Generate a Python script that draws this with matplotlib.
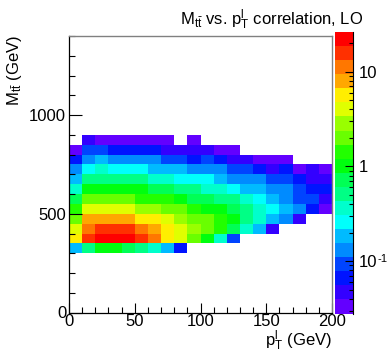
import colorsys
import numpy as np
import matplotlib
matplotlib.use('Agg')
import matplotlib.pyplot as plt
from matplotlib.colors import ListedColormap, BoundaryNorm
from matplotlib.ticker import FixedLocator, FixedFormatter, MultipleLocator, NullFormatter

#------------------------------------------------------------------------------
### Data: bin edges and bin contents (rows = M_tt bins from 300 to 900 GeV)
pt_edges = np.arange(0, 201, 10)
mtt_edges = np.arange(300, 901, 50)

row_300 = [0.18, 0.51, 1.0, 1.0, 0.72, 0.51, 0.37, 0.18, 0.066, 0, 0, 0, 0, 0, 0, 0, 0, 0, 0, 0]
row_350 = [5.6, 16, 22, 22, 22, 16, 11, 5.6, 4.0, 2.0, 1.0, 0.37, 0.093, 0, 0, 0, 0, 0, 0, 0]
row_400 = [4.0, 11, 16, 16, 16, 11, 7.9, 5.6, 4.0, 2.8, 2.0, 1.4, 0.72, 0.37, 0.18, 0.047, 0, 0, 0, 0]
row_450 = [2.0, 7.9, 7.9, 7.9, 7.9, 5.6, 5.6, 4.0, 2.8, 2.0, 2.0, 1.4, 1.0, 0.51, 0.37, 0.18, 0.13, 0.047, 0, 0]
row_500 = [1.4, 4.0, 4.0, 4.0, 4.0, 2.8, 2.8, 2.0, 2.0, 1.4, 1.0, 1.0, 0.72, 0.51, 0.37, 0.26, 0.18, 0.13, 0.066, 0.033]
row_550 = [0.72, 2.0, 2.0, 2.0, 2.0, 1.4, 1.4, 1.4, 1.0, 0.72, 0.72, 0.51, 0.51, 0.37, 0.26, 0.18, 0.13, 0.093, 0.093, 0.047]
row_600 = [0.37, 1.0, 1.0, 1.0, 1.0, 1.0, 0.72, 0.72, 0.51, 0.51, 0.37, 0.37, 0.26, 0.18, 0.18, 0.13, 0.13, 0.093, 0.066, 0.066]
row_650 = [0.18, 0.51, 0.51, 0.51, 0.51, 0.51, 0.37, 0.37, 0.26, 0.26, 0.26, 0.18, 0.13, 0.13, 0.13, 0.093, 0.093, 0.066, 0.047, 0.047]
row_700 = [0.13, 0.26, 0.37, 0.26, 0.26, 0.26, 0.18, 0.18, 0.18, 0.13, 0.13, 0.13, 0.093, 0.093, 0.066, 0.047, 0.066, 0.033, 0.047, 0.033]
row_750 = [0.066, 0.13, 0.18, 0.13, 0.13, 0.13, 0.13, 0.093, 0.093, 0.066, 0.093, 0.066, 0.047, 0.047, 0.033, 0.033, 0.033, 0, 0, 0]
row_800 = [0.033, 0.093, 0.093, 0.066, 0.066, 0.066, 0.066, 0.047, 0.047, 0.047, 0.047, 0.033, 0.033, 0, 0, 0, 0, 0, 0, 0]
row_850 = [0, 0.047, 0.033, 0.033, 0.033, 0.033, 0.033, 0.033, 0, 0.033, 0, 0, 0, 0, 0, 0, 0, 0, 0, 0]

# z-axis range of the palette
Z_MIN = 10 ** -1.553
Z_MAX = 10 ** 1.42
N_CONTOURS = 20

#------------------------------------------------------------------------------
### Style constants
FONT = 'Liberation Sans'
FONT_SIZE = 12
W, H = 389, 362

plt.rcParams['font.family'] = FONT
plt.rcParams['mathtext.fontset'] = 'custom'
plt.rcParams['mathtext.rm'] = FONT
plt.rcParams['mathtext.it'] = FONT
plt.rcParams['font.size'] = FONT_SIZE

# pretty palette (violet -> red), 20 contour colours picked like ROOT does
palette = []
for k in range(N_CONTOURS):
    idx = int((k + 0.99) * 50 / N_CONTOURS)
    hue = 280 - (idx + 1) * 280 / 50
    palette.append(colorsys.hls_to_rgb(hue / 360.0, 0.5, 1.0))
cmap = ListedColormap(palette)
levels = np.logspace(np.log10(Z_MIN), np.log10(Z_MAX), N_CONTOURS + 1)
norm = BoundaryNorm(levels, cmap.N)

counts = np.array([row_300, row_350, row_400, row_450, row_500, row_550,
                   row_600, row_650, row_700, row_750, row_800, row_850])
counts = np.ma.masked_where(counts <= 0, counts)

#------------------------------------------------------------------------------
### Figure
fig = plt.figure(figsize=(W / 100, H / 100), dpi=100)
ax = fig.add_axes([69 / W, 1 - 312.5 / H, (332 - 69) / W, (312.5 - 36) / H])
cax = fig.add_axes([335 / W, 1 - 313.5 / H, (353 - 335) / W, (313.5 - 32) / H])

mesh = ax.pcolormesh(pt_edges, mtt_edges, counts, cmap=cmap, norm=norm)

ax.set_xlim(0, 200)
ax.set_ylim(0, 1400)
ax.xaxis.set_major_locator(MultipleLocator(50))
ax.xaxis.set_minor_locator(MultipleLocator(10))
ax.yaxis.set_major_locator(MultipleLocator(500))
ax.yaxis.set_minor_locator(MultipleLocator(100))
ax.tick_params(which='both', direction='in', top=False, right=False,
               labelsize=FONT_SIZE, width=0.8)
ax.tick_params(axis='x', which='major', length=7, pad=1)
ax.tick_params(axis='x', which='minor', length=4)
ax.tick_params(axis='y', which='major', length=9, pad=2)
ax.tick_params(axis='y', which='minor', length=4.5)
for side in ['left', 'bottom']:
    ax.spines[side].set_color('black')
    ax.spines[side].set_linewidth(0.9)
for side in ['top', 'right']:
    ax.spines[side].set_color('#808080')
    ax.spines[side].set_linewidth(1.0)

# Colour bar (log scale)
cbar = fig.colorbar(mesh, cax=cax)
cbar.outline.set_visible(False)
cax.set_yscale('log')
cax.set_ylim(Z_MIN, Z_MAX)
cax.yaxis.set_major_locator(FixedLocator([0.1, 1, 10]))
cax.yaxis.set_major_formatter(FixedFormatter(['10', '1', '10']))
minor = [m * d for d in [0.01, 0.1, 1, 10] for m in range(2, 10)]
cax.yaxis.set_minor_locator(FixedLocator(minor))
cax.yaxis.set_minor_formatter(NullFormatter())
cax.tick_params(which='both', direction='in', right=True, left=False,
                labelsize=FONT_SIZE, width=0.8, pad=4)
cax.tick_params(which='major', length=6)
cax.tick_params(which='minor', length=3)
cax.plot([1, 1], [0, 1], transform=cax.transAxes, color='black', lw=0.8,
         clip_on=False)
# exponent of the 10^-1 label
cax.annotate('-1', xy=(1, 0.1), xycoords=('axes fraction', 'data'),
             xytext=(4 + 13.6, 5.2), textcoords='offset points',
             ha='left', va='top', fontsize=8)

# Labels and title
fig.text(332 / W, 1 - 329 / H, r'p$_{\mathregular{T}}^{\mathregular{l}}$ (GeV)',
         ha='right', va='top', fontsize=FONT_SIZE)
fig.text(5 / W, 1 - 35 / H, r'M$_{\mathregular{t\bar{t}}}$ (GeV)',
         ha='left', va='top', rotation=90, fontsize=FONT_SIZE)
fig.text(363 / W, 1 - 8 / H,
         r'M$_{\mathregular{t\bar{t}}}$ vs. p$_{\mathregular{T}}^{\mathregular{l}}$ correlation, LO',
         ha='right', va='top', fontsize=FONT_SIZE)

fig.savefig('out.png', dpi=100)
plt.close(fig)
